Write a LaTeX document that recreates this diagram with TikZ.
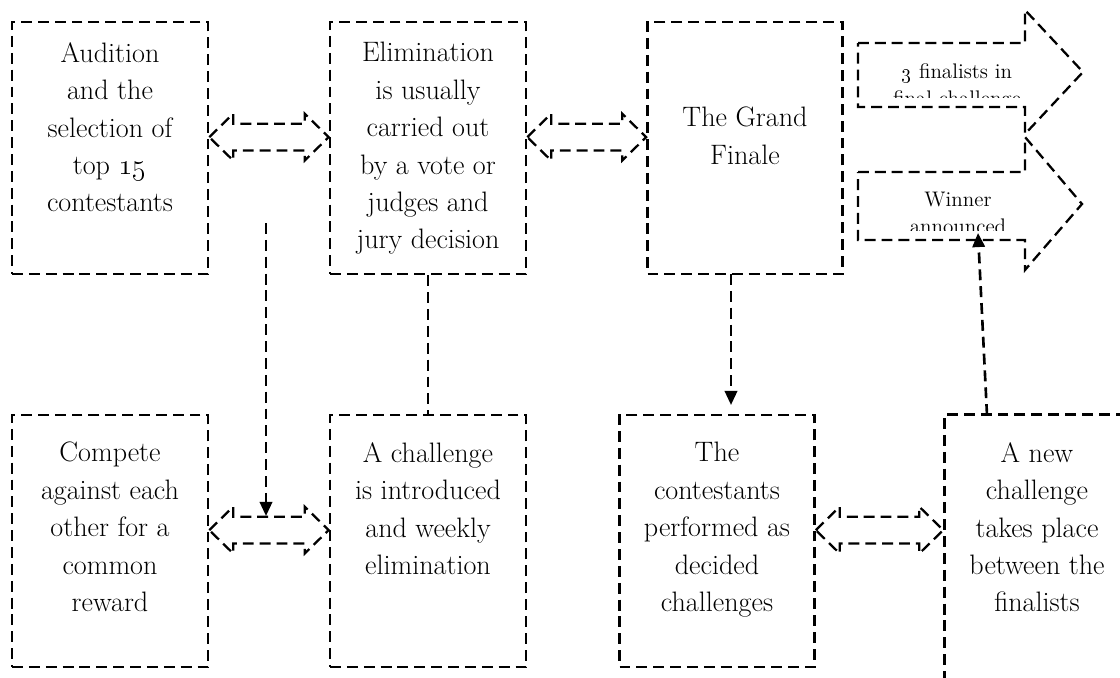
\documentclass[tikz,border=0pt]{standalone}
\usepackage{tikz}
\usetikzlibrary{arrows.meta,calc}

% two-headed block arrow between two anchors (same height)
\newcommand{\dblarrow}[2]{%
  \path[blockline] let \p1=#1, \p2=#2 in
    (\x1,\y1) -- (\x1+13.6pt,\y1+13.3pt) -- (\x1+13.6pt,\y1+7.6pt) -- (\x2-13.6pt,\y1+7.6pt)
    -- (\x2-13.6pt,\y1+13.3pt) -- (\x2,\y1) -- (\x2-13.6pt,\y1-13.3pt) -- (\x2-13.6pt,\y1-7.6pt)
    -- (\x1+13.6pt,\y1-7.6pt) -- (\x1+13.6pt,\y1-13.3pt) -- cycle;}

\begin{document}
\begin{tikzpicture}[x=0.02cm,y=-0.02cm,line width=1.5pt,
    dashline/.style={draw=black,dash pattern=on 6.2pt off 3.4pt},
    box/.style={dashline,shape=rectangle,inner sep=0pt,minimum width=3.92cm,minimum height=5.04cm},
    blockline/.style={dashline,line width=1.3pt,line join=miter},
    txt/.style={anchor=north,inner sep=0pt,align=center,font=\fontsize{16}{21.3}\selectfont},
    smalltxt/.style={anchor=north,inner sep=0pt,align=center,font=\fontsize{12}{15.3}\selectfont},
    >={Triangle[length=8pt,width=7pt]}]
    \clip (0,0) rectangle (1120,677);
    % top row
    \node[box](aud)at(110, 148){};
    \node[box](elim)at(428, 148){};
    \node[box,minimum width=3.9cm](final)at(745, 148){};
    % bottom row
    \node[box](comp)at(110, 541){};
    \node[box](chal)at(428, 541){};
    \node[box,minimum width=3.9cm](perf)at(717, 541){};
    \node[box,minimum width=4.3cm,minimum height=5.5cm](newc)at(1052, 552){};
    % texts
    \node[txt](audt)at(110, 41){Audition\\and the\\selection of\\top \oldstylenums{15}\\contestants};
    \node[txt](elimt)at(428, 41){Elimination\\is usually\\carried out\\by a vote or\\judges and\\jury decision};
    \node[txt](finalt)at(745, 106){The Grand\\Finale};
    \node[txt](compt)at(110, 441){Compete\\against each\\other for a\\common\\reward};
    \node[txt](chalt)at(428, 441){A challenge\\is introduced\\and weekly\\elimination};
    \node[txt](perft)at(717, 441){The\\contestants\\performed as\\decided\\challenges};
    \node[txt](newct)at(1037, 441){A new\\challenge\\takes place\\between the\\finalists};
    % right block arrows
    \path[blockline](858, 43) -- (1025, 43) -- (1025, 10) -- (1083, 72) -- (1025, 134) -- (1025, 107) -- (858, 107) -- cycle;
    \path[blockline](858, 172) -- (1025, 172) -- (1025, 137) -- (1082, 204) -- (1025, 270) -- (1025, 240) -- (858, 240) -- cycle;
    \begin{scope}
        \clip (858, 43) rectangle (1025, 97);
        \node[smalltxt](fin3)at(957, 62){\oldstylenums{3} finalists in\\final challenge};
    \end{scope}
    \begin{scope}
        \clip (858, 172) rectangle (1025, 230);
        \node[smalltxt](win)at(958, 191){Winner\\announced};
    \end{scope}
    % two-headed arrows
    \dblarrow{([yshift=6.2pt]aud.east)}{([yshift=6.2pt]elim.west)}
    \dblarrow{([yshift=6.2pt]elim.east)}{([yshift=6.2pt]final.west)}
    \dblarrow{([yshift=6.2pt]comp.east)}{([yshift=6.2pt]chal.west)}
    \dblarrow{([yshift=6.2pt]perf.east)}{([yshift=6.2pt]newc.west)}
    % connectors
    \coordinate(vs)at(266, 223);
    \coordinate(ve)at(266, 516);
    \coordinate(fs)at(731, 274);
    \coordinate(fe)at(731, 405);
    \coordinate(ws)at(987, 415);
    \coordinate(we)at(978, 233);
    \draw[dashline,->](vs) -- (ve);
    \draw[dashline](elim.south) -- (chal.north);
    \draw[dashline,->](fs) -- (fe);
    \draw[dashline,->](ws) -- (we);
\end{tikzpicture}
\end{document}
